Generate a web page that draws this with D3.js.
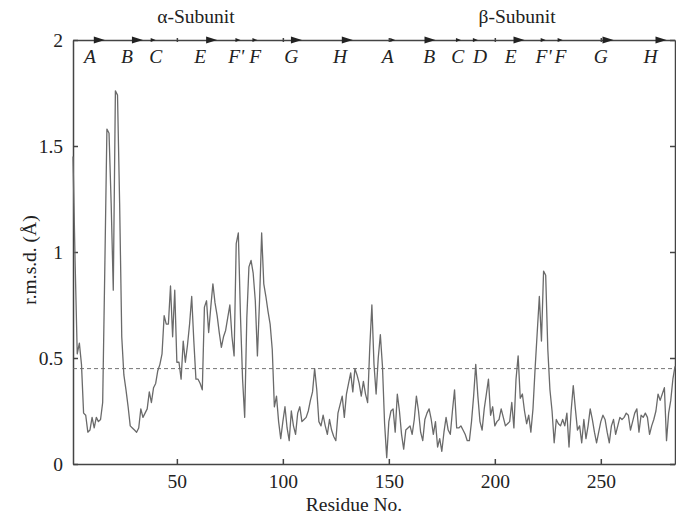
<!DOCTYPE html>
<html>
<head>
<meta charset="utf-8">
<script src="https://cdn.jsdelivr.net/npm/d3@7"></script>
<style>
  body { margin: 0; background: #fff; }
  text { font-family: "Liberation Serif", "DejaVu Serif", serif; fill: #222; }
</style>
</head>
<body>
<svg width="676" height="516"></svg>
<script>
// r.m.s.d. per residue, residues 1..285
const rmsd = [
  1.45,0.95,0.52,0.57,0.47,0.24,0.23,0.15,0.16,0.22,
  0.17,0.22,0.20,0.21,0.29,0.92,1.58,1.56,1.23,0.82,
  1.76,1.74,1.23,0.60,0.42,0.35,0.27,0.18,0.17,0.16,
  0.15,0.17,0.26,0.22,0.24,0.26,0.34,0.29,0.36,0.38,
  0.44,0.47,0.52,0.70,0.66,0.66,0.84,0.60,0.82,0.48,
  0.48,0.40,0.58,0.48,0.56,0.66,0.79,0.58,0.40,0.40,
  0.38,0.35,0.74,0.77,0.62,0.74,0.85,0.76,0.70,0.62,
  0.55,0.60,0.63,0.69,0.75,0.60,0.51,1.04,1.09,0.70,
  0.40,0.22,0.69,0.93,0.96,0.90,0.77,0.51,0.77,1.09,
  0.85,0.79,0.72,0.66,0.54,0.27,0.32,0.20,0.12,0.20,
  0.27,0.17,0.11,0.25,0.18,0.14,0.24,0.27,0.20,0.21,
  0.22,0.25,0.30,0.34,0.45,0.35,0.20,0.18,0.23,0.18,
  0.14,0.21,0.16,0.13,0.11,0.24,0.28,0.32,0.22,0.33,
  0.38,0.43,0.34,0.45,0.42,0.38,0.32,0.39,0.33,0.29,
  0.55,0.75,0.47,0.33,0.50,0.61,0.46,0.19,0.03,0.20,
  0.25,0.26,0.15,0.33,0.25,0.14,0.07,0.16,0.17,0.18,
  0.14,0.21,0.32,0.25,0.15,0.11,0.21,0.24,0.26,0.21,
  0.14,0.20,0.08,0.12,0.06,0.15,0.22,0.16,0.14,0.25,
  0.35,0.17,0.17,0.18,0.16,0.14,0.11,0.11,0.20,0.32,
  0.47,0.32,0.20,0.16,0.26,0.33,0.40,0.23,0.27,0.18,
  0.20,0.21,0.26,0.22,0.18,0.19,0.20,0.29,0.17,0.40,
  0.51,0.31,0.33,0.25,0.19,0.23,0.15,0.26,0.45,0.62,
  0.79,0.58,0.91,0.89,0.54,0.35,0.25,0.10,0.21,0.19,
  0.18,0.21,0.18,0.24,0.08,0.25,0.37,0.26,0.16,0.18,
  0.10,0.21,0.12,0.18,0.26,0.21,0.15,0.10,0.15,0.20,
  0.23,0.21,0.15,0.10,0.18,0.21,0.14,0.18,0.22,0.21,
  0.22,0.24,0.23,0.16,0.20,0.24,0.26,0.15,0.23,0.22,
  0.24,0.22,0.14,0.18,0.21,0.25,0.33,0.30,0.33,0.36,
  0.11,0.24,0.30,0.40,0.46
];
const threshold = 0.45;

const xTicks = [50, 100, 150, 200, 250];
const yTicks = [0, 0.5, 1, 1.5, 2];
const yTickLabels = ["0", "0.5", "1", "1.5", "2"];

// secondary structure (helices) along the top
const helixNames = ["A","B","C","E","F'","F","G","H","A","B","C","D","E","F'","F","G","H"];
const helixLabelAt = [9, 26.5, 40, 61, 78, 87, 104, 127, 149.5, 169, 182.5, 193, 207.5, 223, 231, 250, 273.5];
const arrowAt  = [16, 34, 40, 69, 80, 88, 109, 133, 153, 172, 184, 192, 214, 224, 232, 256, 281];
const arrowBig = [1, 1, 0, 1, 0, 0, 1, 1, 0, 1, 0, 0, 1, 0, 0, 1, 1];
const subunitNames = ["\u03b1-Subunit", "\u03b2-Subunit"];
const subunitAt = [59, 210.5];

// setup
const margin = {top: 40, right: 1, bottom: 52, left: 73};
const width  = 676 - margin.left - margin.right;
const height = 516 - margin.top - margin.bottom;
const axisCol = "#444";
const fontSize = "19.5px";

const svg = d3.select("svg");
const g = svg.append("g").attr("transform", `translate(${margin.left},${margin.top})`);

const x = d3.scaleLinear().domain([1, 285]).range([0, width]);
const y = d3.scaleLinear().domain([0, 2]).range([height, 0]);

// axes (ticks inward)
const xAxis = g.append("g").attr("transform", `translate(0,${height})`)
  .call(d3.axisBottom(x).tickValues(xTicks).tickSizeInner(-5).tickSizeOuter(0).tickPadding(10));
const yAxis = g.append("g")
  .call(d3.axisLeft(y).tickValues(yTicks).tickFormat((d, i) => yTickLabels[i]).tickSizeInner(-5).tickSizeOuter(0).tickPadding(10));
const yAxisR = g.append("g").attr("transform", `translate(${width},0)`)
  .call(d3.axisRight(y).tickValues(yTicks).tickFormat("").tickSizeInner(-5).tickSizeOuter(0));
const xAxisT = g.append("g")
  .call(d3.axisTop(x).tickValues(xTicks).tickFormat("").tickSizeInner(-4).tickSizeOuter(0));

[xAxis, yAxis, yAxisR, xAxisT].forEach(a => {
  a.selectAll("path, line").attr("stroke", axisCol).attr("stroke-width", 1.5);
  a.selectAll("text").style("font-family", "Liberation Serif, serif").style("font-size", fontSize).attr("fill", "#222");
});
xAxisT.selectAll(".tick line").attr("transform", "translate(0,-2)");

// threshold line
g.append("line")
  .attr("x1", 0).attr("x2", width)
  .attr("y1", y(threshold)).attr("y2", y(threshold))
  .attr("stroke", "#666").attr("stroke-width", 0.9).attr("stroke-dasharray", "4,3");

// data line
const line = d3.line().x((d, i) => x(i + 1)).y(d => y(d));
g.append("path").datum(rmsd)
  .attr("d", line)
  .attr("fill", "none")
  .attr("stroke", "#6a6a6a")
  .attr("stroke-width", 1.3)
  .attr("stroke-linejoin", "round");

// arrowheads on the top line
g.selectAll(".arrow").data(arrowAt).join("path")
  .attr("class", "arrow")
  .attr("d", (d, i) => {
    const L = arrowBig[i] ? 11 : 5, W = arrowBig[i] ? 3.5 : 2;
    const px = x(d);
    return `M${px},0 L${px - L},${-W} L${px - L},${W} Z`;
  })
  .attr("fill", "#222");

// helix labels
g.selectAll(".helix").data(helixNames).join("text")
  .attr("class", "helix")
  .attr("x", (d, i) => x(helixLabelAt[i]))
  .attr("y", 23)
  .attr("text-anchor", "middle")
  .style("font-style", "italic")
  .style("font-size", fontSize)
  .text(d => d);

// subunit titles
g.selectAll(".sub").data(subunitNames).join("text")
  .attr("class", "sub")
  .attr("x", (d, i) => x(subunitAt[i]))
  .attr("y", -17)
  .attr("text-anchor", "middle")
  .style("font-size", fontSize)
  .text(d => d);

// axis titles
svg.append("text")
  .attr("x", 354)
  .attr("y", 511)
  .attr("text-anchor", "middle")
  .style("font-size", fontSize)
  .text("Residue No.");

svg.append("text")
  .attr("transform", `translate(36,${margin.top + height / 2 + 8}) rotate(-90)`)
  .attr("text-anchor", "middle")
  .style("font-size", fontSize)
  .text("r.m.s.d. (\u00c5)");
</script>
</body>
</html>
